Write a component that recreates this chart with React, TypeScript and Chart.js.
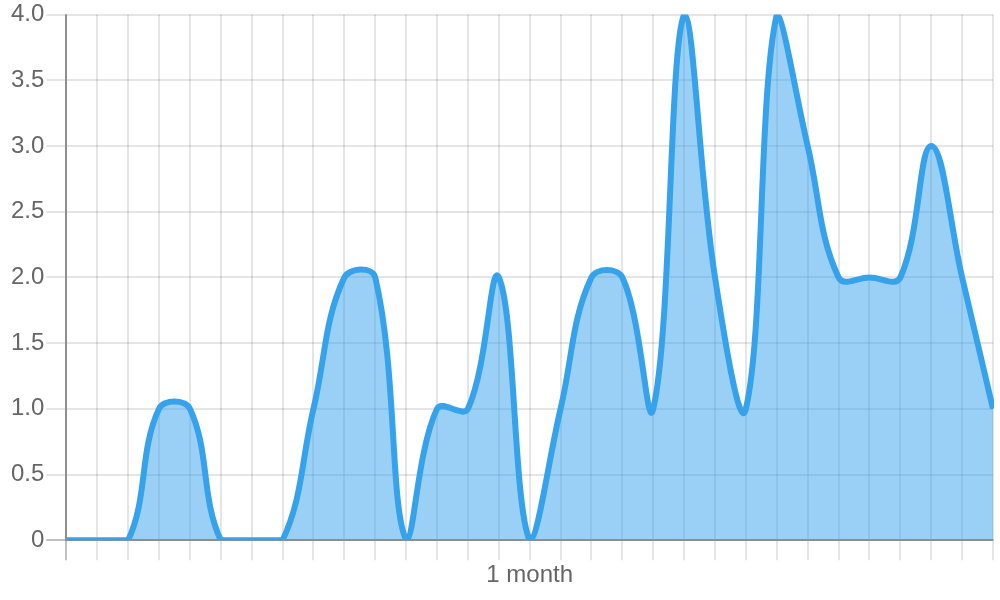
import React, { useEffect, useRef } from "react";
import { Chart, registerables } from "chart.js";

Chart.register(...registerables);

const categories: string[] = [
  "", "", "", "", "", "", "", "", "", "", "", "", "", "", "",
  "1 month",
  "", "", "", "", "", "", "", "", "", "", "", "", "", "", "",
];

const seriesValues: number[] = [
  0, 0, 0, 1, 1, 0, 0, 0, 1, 2, 2, 0, 1, 1, 2, 0,
  1, 2, 2, 1, 4, 2, 1, 4, 3, 2, 2, 2, 3, 2, 1,
];

const yTickValues: number[] = [0, 0.5, 1, 1.5, 2, 2.5, 3, 3.5, 4];
const yTickLabels: string[] = ["0", "0.5", "1.0", "1.5", "2.0", "2.5", "3.0", "3.5", "4.0"];

const FONT = "'Liberation Sans', Arial, Helvetica, sans-serif";
const GRID = "rgba(0,0,0,0.1)";
const ZERO = "rgba(0,0,0,0.25)";

export default function App() {
  const ref = useRef<HTMLCanvasElement | null>(null);

  useEffect(() => {
    if (!ref.current) return;
    const chart = new Chart(ref.current, {
      type: "line",
      data: {
        labels: categories,
        datasets: [
          {
            data: seriesValues,
            borderColor: "rgb(54,162,235)",
            backgroundColor: "rgba(54,162,235,0.5)",
            borderWidth: 6,
            pointRadius: 0,
            pointHoverRadius: 0,
            tension: 0.4,
            fill: "origin",
          },
        ],
      },
      options: {
        animation: false,
        responsive: true,
        maintainAspectRatio: false,
        layout: { padding: { left: 1, right: 0, top: 0, bottom: 0 } },
        plugins: {
          legend: { display: false },
          tooltip: { enabled: false },
          title: { display: false },
        },
        scales: {
          x: {
            type: "category",
            grid: {
              color: (ctx: any) => (ctx.index === 0 ? ZERO : GRID),
              lineWidth: 2,
              tickLength: 20,
              drawOnChartArea: true,
              drawTicks: true,
            },
            border: { display: true, color: ZERO, width: 2 },
            ticks: {
              autoSkip: false,
              maxRotation: 0,
              minRotation: 0,
              padding: 1,
              color: "#666",
              font: { family: FONT, size: 24 },
            },
          },
          y: {
            type: "linear",
            min: 0,
            max: 4,
            afterBuildTicks: (scale: any) => {
              scale.ticks = yTickValues.map((v) => ({ value: v }));
            },
            grid: {
              color: (ctx: any) => (ctx.index === 0 ? ZERO : GRID),
              lineWidth: 2,
              tickLength: 20,
            },
            border: { display: true, color: ZERO, width: 2 },
            ticks: {
              padding: 2,
              color: "#666",
              font: { family: FONT, size: 24, lineHeight: 1.05 },
              callback: (_v: any, i: number) => yTickLabels[i],
            },
          },
        },
      },
    });
    return () => chart.destroy();
  }, []);

  return (
    <div style={{ position: "absolute", left: "8px", top: "0px", width: "986px", height: "591px" }}>
      <canvas ref={ref} />
    </div>
  );
}
